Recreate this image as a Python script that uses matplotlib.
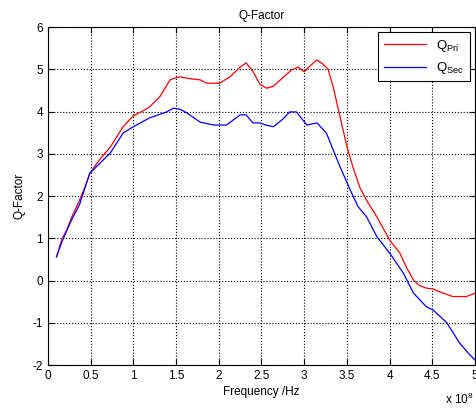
import numpy as np
import matplotlib
matplotlib.use('Agg')
import matplotlib.pyplot as plt
from matplotlib.ticker import FuncFormatter

plt.rcParams['font.family'] = ['Liberation Sans', 'DejaVu Sans']
plt.rcParams['mathtext.default'] = 'regular'
plt.rcParams['axes.unicode_minus'] = False

# Q-factor of primary side (frequency in Hz)
freq_pri = np.array([0.10, 0.16, 0.22, 0.28, 0.37, 0.45, 0.49, 0.60, 0.73, 0.88,
                     1.00, 1.10, 1.19, 1.31, 1.43, 1.50, 1.55, 1.65, 1.78, 1.86,
                     2.01, 2.13, 2.25, 2.32, 2.40, 2.48, 2.56, 2.64, 2.75, 2.85,
                     2.93, 3.00, 3.08, 3.15, 3.22, 3.28, 3.34, 3.42, 3.50, 3.57,
                     3.65, 3.73, 3.85, 4.00, 4.12, 4.20, 4.28, 4.35, 4.43, 4.51,
                     4.59, 4.74, 4.90, 5.00]) * 1e8
q_pri = np.array([0.56, 0.96, 1.20, 1.51, 1.90, 2.30, 2.54, 2.85, 3.16, 3.64,
                  3.90, 4.00, 4.11, 4.35, 4.75, 4.80, 4.82, 4.78, 4.75, 4.67,
                  4.67, 4.82, 5.05, 5.15, 4.95, 4.65, 4.55, 4.60, 4.80, 4.98,
                  5.05, 4.94, 5.10, 5.22, 5.12, 5.00, 4.58, 3.87, 3.17, 2.69,
                  2.21, 1.90, 1.51, 0.96, 0.65, 0.30, 0.01, -0.12, -0.18, -0.20,
                  -0.27, -0.38, -0.38, -0.30])

# Q-factor of secondary side
freq_sec = np.array([0.10, 0.16, 0.22, 0.28, 0.37, 0.45, 0.49, 0.61, 0.73, 0.88,
                     1.00, 1.19, 1.39, 1.47, 1.55, 1.63, 1.78, 1.94, 2.09, 2.25,
                     2.32, 2.40, 2.48, 2.55, 2.64, 2.75, 2.83, 2.91, 3.03, 3.15,
                     3.26, 3.34, 3.42, 3.54, 3.63, 3.73, 3.85, 4.00, 4.16, 4.28,
                     4.43, 4.51, 4.67, 4.82, 4.94, 5.00]) * 1e8
q_sec = np.array([0.56, 0.90, 1.18, 1.45, 1.80, 2.30, 2.54, 2.78, 3.02, 3.49,
                  3.64, 3.85, 3.99, 4.08, 4.05, 3.96, 3.75, 3.68, 3.68, 3.92,
                  3.92, 3.73, 3.73, 3.68, 3.64, 3.82, 3.99, 3.99, 3.68, 3.73,
                  3.49, 3.09, 2.69, 2.14, 1.75, 1.51, 1.04, 0.65, 0.18, -0.30,
                  -0.62, -0.70, -1.00, -1.48, -1.76, -1.88])

x_ticks = np.arange(0, 5.01, 0.5) * 1e8
y_ticks = np.arange(-2, 7, 1)

fig = plt.figure(figsize=(4.77, 4.11), dpi=100)
ax = fig.add_axes([0.1006, 0.1119, 0.8952, 0.8224])

ax.plot(freq_pri, q_pri, color='red', lw=0.9, label='Q$_{Pri}$')
ax.plot(freq_sec, q_sec, color='blue', lw=0.9, label='Q$_{Sec}$')

ax.set_xlim(0, 5e8)
ax.set_ylim(-2, 6)
ax.set_xticks(x_ticks)
ax.set_yticks(y_ticks)
ax.xaxis.set_major_formatter(FuncFormatter(lambda v, p: '%g' % (v / 1e8)))
ax.tick_params(direction='in', top=True, right=True, labelsize=8.5, length=4)
ax.grid(True, color='black', linestyle=':', linewidth=0.8)

ax.set_title('Q-Factor', fontsize=8.5, pad=6)
ax.set_xlabel('Frequency /Hz', fontsize=8.5, labelpad=3)
ax.set_ylabel('Q-Factor', fontsize=8.5, labelpad=5)
fig.text(0.993, 0.018, 'x 10$^8$', fontsize=8.5, ha='right')

leg = ax.legend(loc='upper right', fontsize=9.5, fancybox=False, framealpha=1,
                edgecolor='black', borderaxespad=0.4, handlelength=3.2)
leg.get_frame().set_linewidth(0.8)

plt.savefig('out.png', dpi=100)
